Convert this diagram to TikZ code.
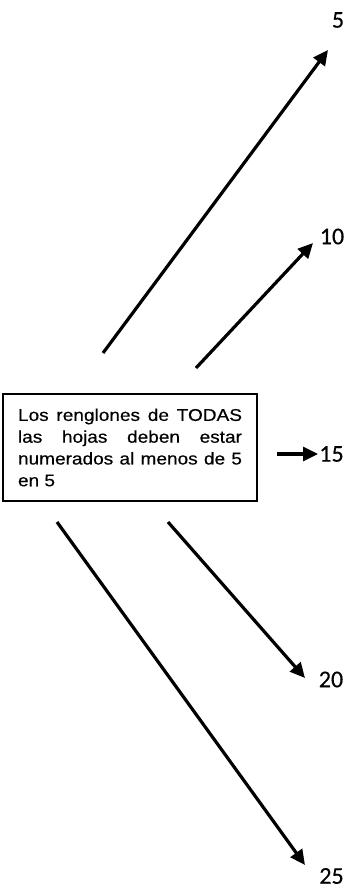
\documentclass[tikz,border=0pt]{standalone}
\usepackage{fontspec}
\newfontfamily\notafont{Liberation Sans}[FakeStretch=1.12,FakeBold=0.4]
\newfontfamily\numfont{Carlito}[FakeBold=0.4]
\usetikzlibrary{positioning,arrows.meta}

\begin{document}
\begin{tikzpicture}[x=1pt,y=-1pt,
  flecha/.style={line width=3.2pt,-{Triangle[length=15pt,width=14pt]}},
  num/.style={inner sep=0pt,font=\numfont\fontsize{24}{24}\selectfont}]
\useasboundingbox[fill=white] (0,0) rectangle (355,888);
% recuadro con la nota
\node[draw,line width=1.8pt,minimum width=254pt,minimum height=107pt,inner xsep=15pt,text width=224pt,align=justify,font=\notafont\fontsize{17}{21.8}\selectfont] (nota) at (130,447.5) {Los renglones de TODAS\linebreak las hojas deben estar\linebreak numerados al menos de 5\linebreak en 5};
% numeros de renglon y flechas
\foreach \n/\sx/\sy/\tx/\ty/\lx/\ly in {5/103/353/328/50/338/20, 10/196/368/313/243/332/236.5, 15/277/454/318/454/331.5/454, 20/168/522/305/678/331/679.5, 25/57/522/305/865/331.5/876}{
  \node[num] (n\n) at (\lx,\ly) {\n};
  \coordinate (s\n) at (\sx,\sy);
  \coordinate (t\n) at (\tx,\ty);
  \draw[flecha] (s\n) -- (t\n);
}
\end{tikzpicture}
\end{document}
